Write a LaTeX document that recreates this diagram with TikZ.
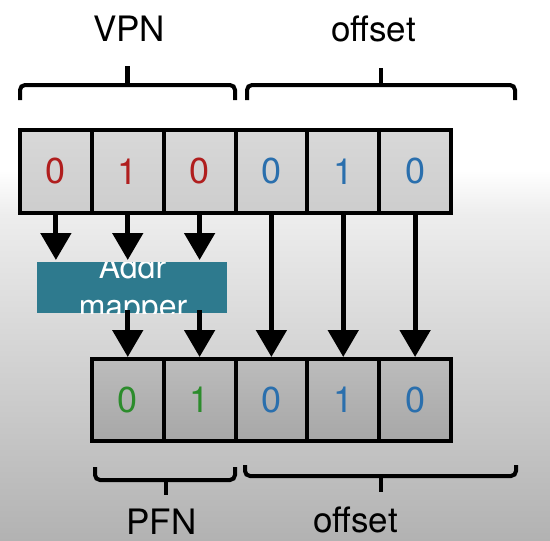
\documentclass[tikz,border=0pt]{standalone}
\usepackage{fontspec}
\setmainfont{TeX Gyre Heros}
\usetikzlibrary{arrows.meta,calc}
\definecolor{vred}{HTML}{B01E1E}
\definecolor{oblue}{HTML}{2A6FAD}
\definecolor{pgreen}{HTML}{2C8C2C}
\definecolor{mapfill}{HTML}{2E7A8E}
\definecolor{cellAtop}{HTML}{D8D8D8}
\definecolor{cellAbot}{HTML}{CDCDCD}
\definecolor{cellBtop}{HTML}{BCBCBC}
\definecolor{cellBbot}{HTML}{A7A7A7}
\definecolor{bgmid}{HTML}{EDEDED}
\definecolor{bgbot}{HTML}{B2B2B2}
\begin{document}
\begin{tikzpicture}[x=1pt,y=-1pt,
  cellA/.style={draw,line width=4pt,minimum width=71.8pt,minimum height=83pt,inner sep=0pt,outer sep=0pt,top color=cellAtop,bottom color=cellAbot,font=\fontsize{36}{40}\selectfont},
  cellB/.style={draw,line width=4pt,minimum width=71.8pt,minimum height=82pt,inner sep=0pt,outer sep=0pt,top color=cellBtop,bottom color=cellBbot,font=\fontsize{36}{40}\selectfont},
  arr/.style={line width=5pt,-{Triangle[length=27pt,width=30pt]}},
  bracepath/.style={line width=4pt,rounded corners=5pt},
  bracetip/.style={line width=4.5pt},
  lbl/.style={font=\fontsize{35}{42}\selectfont,anchor=base,inner sep=0pt},
  mtxt/.style={font=\fontsize{32}{39}\selectfont,text=white,anchor=base,inner sep=0pt}]
\useasboundingbox (0,0) rectangle (550,541);
% background
\fill[white] (0,0) rectangle (550,541);
\shade[top color=white,bottom color=bgmid] (0,170) rectangle (550,215);
\shade[top color=bgmid,bottom color=bgbot] (0,215) rectangle (550,541);
% top row
\node[cellA,text=vred] (t1) at (55.9,171.5) {0};
\node[cellA,text=vred] (t2) at (127.75,171.5) {1};
\node[cellA,text=vred] (t3) at (199.6,171.5) {0};
\node[cellA,text=oblue] (t4) at (271.4,171.5) {0};
\node[cellA,text=oblue] (t5) at (343.25,171.5) {1};
\node[cellA,text=oblue] (t6) at (415.1,171.5) {0};
% bottom row
\node[cellB,text=pgreen] (b1) at (127.75,400) {0};
\node[cellB,text=pgreen] (b2) at (199.6,400) {1};
\node[cellB,text=oblue] (b3) at (271.4,400) {0};
\node[cellB,text=oblue] (b4) at (343.25,400) {1};
\node[cellB,text=oblue] (b5) at (415.1,400) {0};
% mapper
\node[fill=mapfill,minimum width=190pt,minimum height=51pt,inner sep=0pt,outer sep=0pt] (map) at (132,287.5) {};
\begin{scope}
\clip (map.south west) rectangle (map.north east);
\node[mtxt] (mt1) at (132.5,278) {Addr};
\node[mtxt] (mt2) at (133,317) {mapper};
\end{scope}
% arrows
\draw[arr,shorten >=2pt] (t1.south) -- (t1.south |- map.north);
\draw[arr,shorten >=2pt] (t2.south) -- (t2.south |- map.north);
\draw[arr,shorten >=2pt] (t3.south) -- (t3.south |- map.north);
\draw[arr,shorten >=2pt] ($(map.south -| b1.north)+(0,-3)$) -- (b1.north);
\draw[arr,shorten >=2pt] ($(map.south -| b2.north)+(0,-3)$) -- (b2.north);
\draw[arr,shorten >=2pt] (t4.south) -- (b3.north);
\draw[arr,shorten >=2pt] (t5.south) -- (b4.north);
\draw[arr,shorten >=2pt] (t6.south) -- (b5.north);
% braces
\draw[bracepath] (20,100) -- (20,85) -- (235,85) -- (235,100);
\draw[bracetip] (127.5,86) -- (127.5,66);
\draw[bracepath] (247,100) -- (247,85) -- (515,85) -- (515,100);
\draw[bracetip] (381,86) -- (381,68);
\draw[bracepath] (95,467) -- (95,480) -- (235,480) -- (235,467);
\draw[bracetip] (166,479) -- (166,495);
\draw[bracepath] (245,465) -- (245,476) -- (516,476) -- (516,465);
\draw[bracetip] (381,475) -- (381,492);
% labels
\node[lbl] (vpn) at (129,41) {VPN};
\node[lbl] (offt) at (373.5,41) {offset};
\node[lbl] (pfn) at (161.5,534) {PFN};
\node[lbl] (offb) at (355.5,532) {offset};
\end{tikzpicture}
\end{document}
